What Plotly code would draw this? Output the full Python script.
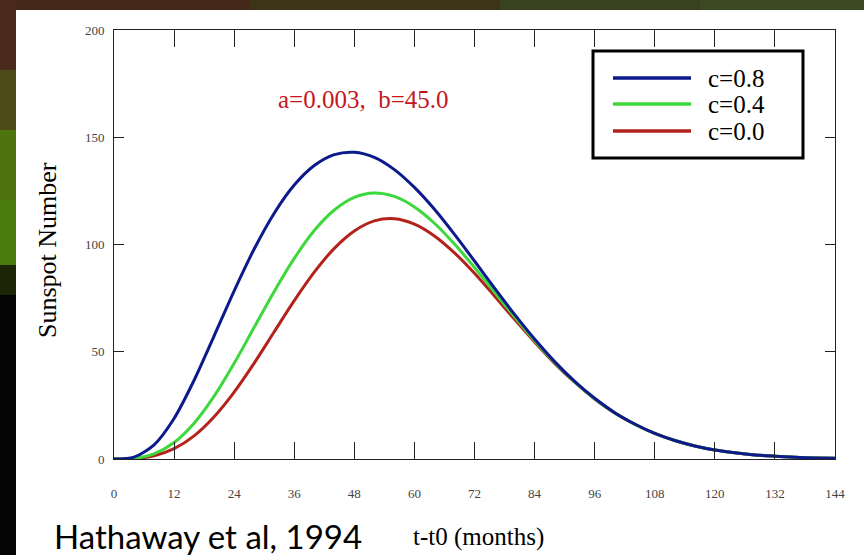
import plotly.graph_objects as go

# ---- data ----
months = [0, 4, 8, 12, 16, 20, 24, 28, 32, 36, 40, 44, 48, 52, 56, 60, 64, 68, 72,
          76, 80, 84, 88, 92, 96, 100, 104, 108, 112, 116, 120, 124, 128, 132, 136, 140, 144]

ssn_c08 = [0, 0.9, 6.6, 18.9, 36.7, 57.4, 78.4, 97.9, 114.6, 127.7, 136.8, 141.9, 143.0,
           140.6, 134.9, 126.6, 116.4, 104.7, 92.3, 79.7, 67.4, 55.9, 45.4, 36.2, 28.3,
           21.6, 16.3, 11.9, 8.6, 6.1, 4.2, 2.9, 1.9, 1.3, 0.8, 0.5, 0.3]
ssn_c04 = [0, 0.3, 2.4, 7.7, 16.7, 29.3, 44.6, 61.4, 78.1, 93.5, 106.5, 116.1, 122.0,
           124.0, 122.4, 117.5, 109.9, 100.2, 89.3, 77.8, 66.3, 55.2, 45.0, 36.0, 28.1,
           21.6, 16.2, 11.9, 8.6, 6.1, 4.2, 2.9, 1.9, 1.3, 0.8, 0.5, 0.3]
ssn_c00 = [0, 0.2, 1.5, 4.8, 10.8, 19.7, 31.2, 44.7, 59.3, 73.8, 87.1, 98.2, 106.3,
           111.0, 112.0, 109.5, 104.0, 96.1, 86.6, 76.0, 65.1, 54.6, 44.6, 35.8, 28.0,
           21.5, 16.2, 11.9, 8.6, 6.1, 4.2, 2.9, 1.9, 1.3, 0.8, 0.5, 0.3]

series_names = ["c=0.8", "c=0.4", "c=0.0"]
series_values = [ssn_c08, ssn_c04, ssn_c00]
series_colors = ["#0c1a8c", "#3cd83c", "#b3231c"]

x_ticks = list(range(0, 145, 12))
y_ticks = [0, 50, 100, 150, 200]

# ---- geometry helpers (pixel -> paper) ----
L, R, T, B = 114, 835, 30, 459
W, H = 864, 555
def px(x):
    return (x - L) / (R - L)
def py(y):
    return (B - y) / (B - T)

fig = go.Figure()

# draw red first so blue ends on top
for name, vals, col in reversed(list(zip(series_names, series_values, series_colors))):
    fig.add_trace(go.Scatter(x=months, y=vals, mode="lines", name=name,
                             line=dict(color=col, width=3, shape="spline", smoothing=0.8),
                             showlegend=False, hoverinfo="skip"))

shapes = []
# background strips (aurora photo edge)
top_segs = [(0, 250, "#44281a"), (250, 500, "#3c3318"), (500, 700, "#394220"), (700, 864, "#3b4a22")]
for x0, x1, c in top_segs:
    shapes.append(dict(type="rect", xref="paper", yref="paper", x0=px(x0), x1=px(x1),
                       y0=py(10), y1=py(0), fillcolor=c, line=dict(width=0), layer="below"))
left_segs = [(0, 70, "#4a2a1a"), (70, 130, "#4d4a16"), (130, 200, "#4e7410"),
             (200, 265, "#4a7a0c"), (265, 295, "#1c2406"), (295, 555, "#040404")]
for y0, y1, c in left_segs:
    shapes.append(dict(type="rect", xref="paper", yref="paper", x0=px(0), x1=px(16),
                       y0=py(y1), y1=py(y0), fillcolor=c, line=dict(width=0), layer="below"))

# legend box
shapes.append(dict(type="rect", xref="paper", yref="paper", x0=px(593), x1=px(803),
                   y0=py(158), y1=py(51), fillcolor="white", line=dict(color="black", width=3)))
leg_y = [78, 104, 131]
annotations = []
for name, col, yy in zip(series_names, series_colors, leg_y):
    shapes.append(dict(type="line", xref="paper", yref="paper", x0=px(613), x1=px(691),
                       y0=py(yy), y1=py(yy), line=dict(color=col, width=3.5)))
    annotations.append(dict(xref="paper", yref="paper", x=px(706), y=py(yy), text=name,
                            showarrow=False, xanchor="left", yanchor="middle",
                            font=dict(family="Liberation Serif", size=25, color="black")))

annotations.append(dict(xref="paper", yref="paper", x=px(363), y=py(99), text="a=0.003,  b=45.0",
                        showarrow=False, xanchor="center", yanchor="middle",
                        font=dict(family="Liberation Serif", size=25, color="#c4161e")))
annotations.append(dict(xref="paper", yref="paper", x=px(48), y=py(250), text="Sunspot Number",
                        textangle=-90, showarrow=False, xanchor="center", yanchor="middle",
                        font=dict(family="Liberation Serif", size=26, color="black")))
annotations.append(dict(xref="paper", yref="paper", x=px(478), y=py(537), text="t-t0 (months)",
                        showarrow=False, xanchor="center", yanchor="middle",
                        font=dict(family="Liberation Serif", size=25, color="black")))
annotations.append(dict(xref="paper", yref="paper", x=px(52), y=py(536), text="Hathaway et al, 1994",
                        showarrow=False, xanchor="left", yanchor="middle",
                        font=dict(family="Lato", size=33, color="black")))

fig.update_layout(
    width=W, height=H,
    margin=dict(l=L, r=W - R, t=T, b=H - B, pad=0),
    paper_bgcolor="white", plot_bgcolor="white",
    shapes=shapes, annotations=annotations, showlegend=False,
)
fig.update_xaxes(range=[0, 144], tickvals=x_ticks, ticktext=[str(v) for v in x_ticks],
                 ticks="inside", ticklen=17, tickwidth=1, tickcolor="#222",
                 showline=True, linecolor="#222", linewidth=1, mirror="ticks",
                 showgrid=False, zeroline=False, ticklabelstandoff=22,
                 tickfont=dict(family="Liberation Serif", size=13, color="#444"))
fig.update_yaxes(range=[0, 200], tickvals=y_ticks, ticktext=[str(v) for v in y_ticks],
                 ticks="inside", ticklen=10, tickwidth=1, tickcolor="#222",
                 showline=True, linecolor="#222", linewidth=1, mirror="ticks",
                 showgrid=False, zeroline=False, ticklabelstandoff=6,
                 tickfont=dict(family="Liberation Serif", size=13, color="#444"))

fig.write_html("out.html", config={"displayModeBar": False},
               post_script="document.body.style.margin='0px';document.body.style.overflow='hidden';")
